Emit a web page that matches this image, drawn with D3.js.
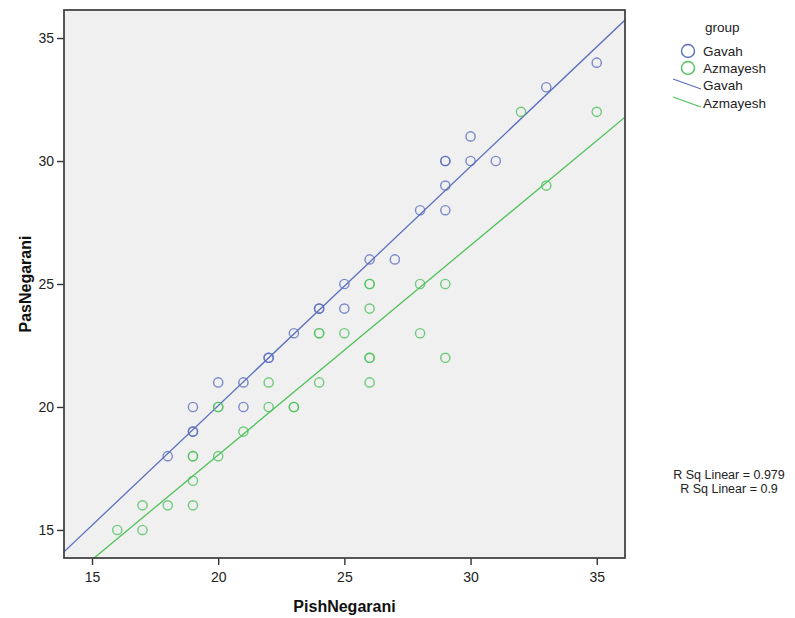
<!DOCTYPE html>
<html>
<head>
<meta charset="utf-8">
<script src="https://cdn.jsdelivr.net/npm/d3@7"></script>
<style>
  body { margin: 0; background: #fff; }
  text { font-family: "Liberation Sans", Arial, sans-serif; }
</style>
</head>
<body>
<div id="chart"></div>
<script>
// points, [PishNegarani, PasNegarani]
var gavahPoints = [
  [18,18],[19,19],[19,19],[19,20],[20,21],[21,20],[21,21],[22,22],[22,22],
  [23,23],[24,24],[24,24],[25,24],[25,25],[26,26],[27,26],[28,28],[29,28],
  [29,29],[29,30],[29,30],[30,30],[30,31],[31,30],[33,33],[35,34]
]
var azmayeshPoints = [
  [16,15],[17,15],[17,16],[18,16],[19,16],[19,17],[19,18],[19,18],[20,18],
  [20,20],[20,20],[21,19],[22,20],[22,21],[23,20],[23,20],[24,21],[24,23],[24,23],
  [25,23],[26,21],[26,22],[26,22],[26,24],[26,25],[26,25],[28,23],[28,25],
  [29,22],[29,25],[32,32],[33,29],[35,32]
]
// fit lines: [slope, intercept]
var gavahFit = [0.9726, 0.60]
var azmayeshFit = [0.852, 1.01]
var groupNames = ["Gavah", "Azmayesh"]
var groupColors = ["#5b6fbf", "#4fc25c"]
var rsqLabels = ["R Sq Linear = 0.979", "R Sq Linear = 0.9"]
var xTicks = [15, 20, 25, 30, 35]
var yTicks = [15, 20, 25, 30, 35]

var width = 795, height = 618
var plot = {left: 64, top: 10, right: 625, bottom: 558}

var svg = d3.select("#chart").append("svg")
  .attr("width", width)
  .attr("height", height)

var x = d3.scaleLinear().domain([13.89, 36.12]).range([plot.left, plot.right])
var y = d3.scaleLinear().domain([13.86, 36.14]).range([plot.bottom, plot.top])

svg.append("rect")
  .attr("x", plot.left).attr("y", plot.top)
  .attr("width", plot.right - plot.left).attr("height", plot.bottom - plot.top)
  .attr("fill", "#f0f0f0")

svg.append("defs").append("clipPath").attr("id", "clip")
  .append("rect")
  .attr("x", plot.left).attr("y", plot.top)
  .attr("width", plot.right - plot.left).attr("height", plot.bottom - plot.top)

var inner = svg.append("g").attr("clip-path", "url(#clip)")

// regression lines
var fits = [gavahFit, azmayeshFit]
fits.forEach(function(f, i) {
  var xs = x.domain()
  inner.append("line")
    .attr("x1", x(xs[0])).attr("y1", y(f[0] * xs[0] + f[1]))
    .attr("x2", x(xs[1])).attr("y2", y(f[0] * xs[1] + f[1]))
    .attr("stroke", groupColors[i])
    .attr("stroke-width", 1.3)
})

// points
var groups = [gavahPoints, azmayeshPoints]
groups.forEach(function(pts, i) {
  inner.selectAll(".pt" + i)
    .data(pts)
    .enter()
    .append("circle")
    .attr("class", "pt" + i)
    .attr("cx", d => x(d[0]))
    .attr("cy", d => y(d[1]))
    .attr("r", 4.6)
    .attr("fill", "none")
    .attr("stroke", groupColors[i])
    .attr("stroke-opacity", 0.8)
    .attr("stroke-width", 1.4)
})

// axes
var xAxis = svg.append("g")
  .attr("transform", `translate(0, ${plot.bottom})`)
  .call(d3.axisBottom(x).tickValues(xTicks).tickSize(7).tickFormat(d3.format("d")))
var yAxis = svg.append("g")
  .attr("transform", `translate(${plot.left}, 0)`)
  .call(d3.axisLeft(y).tickValues(yTicks).tickSize(7).tickFormat(d3.format("d")))

;[xAxis, yAxis].forEach(function(a) {
  a.select(".domain").remove()
  a.selectAll(".tick line").attr("stroke", "#333").attr("stroke-width", 1.4)
  a.selectAll(".tick text").attr("font-size", 14).attr("fill", "#222")
    .style("font-family", "'Liberation Sans', Arial, sans-serif")
})
xAxis.selectAll(".tick text").attr("dy", "1.0em")

// frame
svg.append("rect")
  .attr("x", plot.left).attr("y", plot.top)
  .attr("width", plot.right - plot.left).attr("height", plot.bottom - plot.top)
  .attr("fill", "none")
  .attr("stroke", "#444")
  .attr("stroke-width", 1.8)

// axis titles
svg.append("text")
  .attr("x", (plot.left + plot.right) / 2).attr("y", 612)
  .attr("text-anchor", "middle")
  .attr("font-size", 16).attr("font-weight", "bold").attr("fill", "#111")
  .text("PishNegarani")
svg.append("text")
  .attr("transform", `translate(31, ${(plot.top + plot.bottom) / 2}) rotate(-90)`)
  .attr("text-anchor", "middle")
  .attr("font-size", 16).attr("font-weight", "bold").attr("fill", "#111")
  .text("PasNegarani")

// legend
var legend = svg.append("g")
legend.append("text")
  .attr("x", 705).attr("y", 32)
  .attr("font-size", 13.5).attr("fill", "#222")
  .text("group")
groupNames.forEach(function(name, i) {
  legend.append("circle")
    .attr("cx", 688).attr("cy", 51 + i * 17)
    .attr("r", 6.5)
    .attr("fill", "none")
    .attr("stroke", groupColors[i])
    .attr("stroke-width", 1.4)
  legend.append("text")
    .attr("x", 703).attr("y", 56 + i * 17)
    .attr("font-size", 13.5).attr("fill", "#222")
    .text(name)
  legend.append("line")
    .attr("x1", 673).attr("y1", 79 + i * 18)
    .attr("x2", 701).attr("y2", 89 + i * 18)
    .attr("stroke", groupColors[i])
    .attr("stroke-width", 1.3)
  legend.append("text")
    .attr("x", 703).attr("y", 90 + i * 18)
    .attr("font-size", 13.5).attr("fill", "#222")
    .text(name)
})

// R squared notes
rsqLabels.forEach(function(t, i) {
  svg.append("text")
    .attr("x", 729).attr("y", 479 + i * 14)
    .attr("text-anchor", "middle")
    .attr("font-size", 12.5).attr("fill", "#222")
    .text(t)
})
</script>
</body>
</html>
